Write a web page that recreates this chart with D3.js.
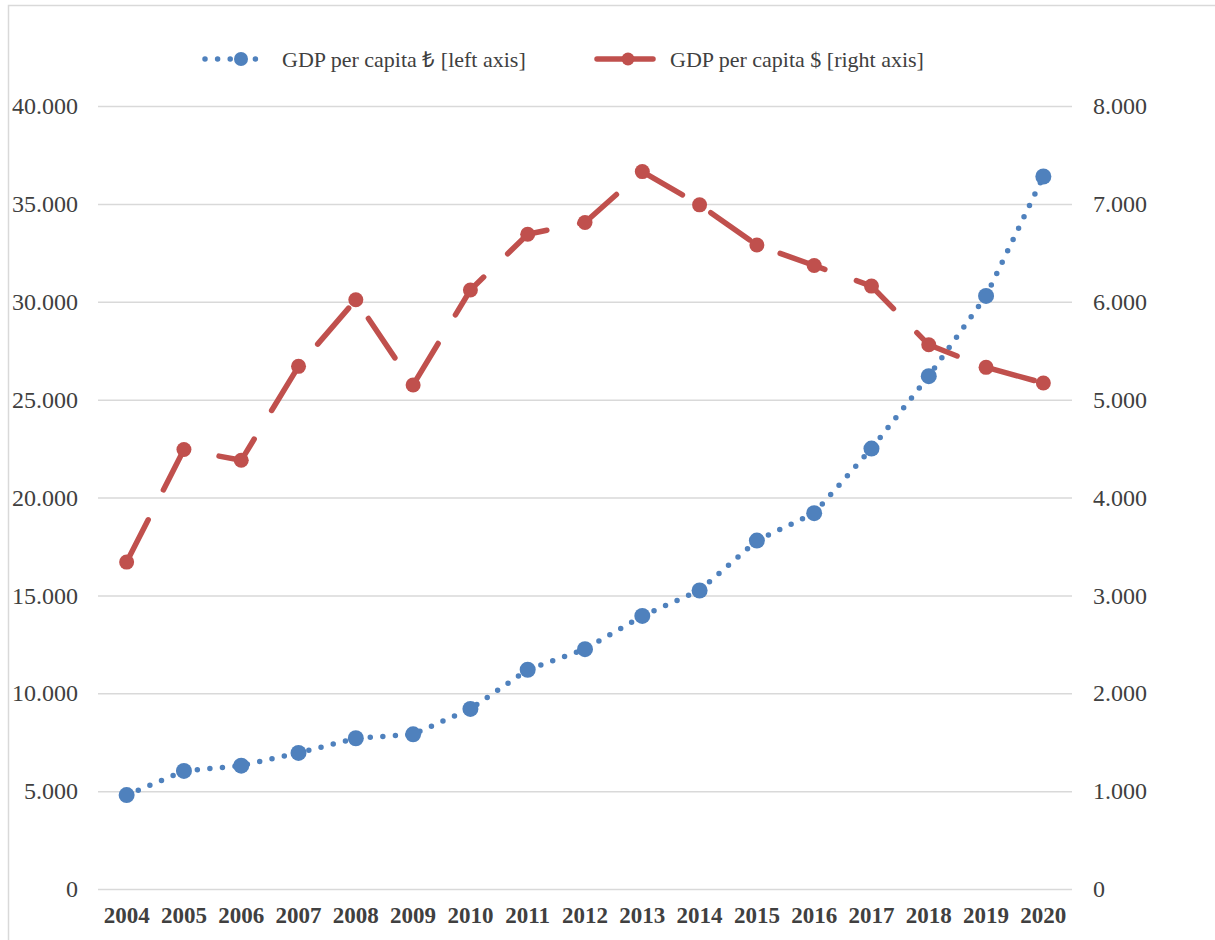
<!DOCTYPE html>
<html>
<head>
<meta charset="utf-8">
<script src="https://cdn.jsdelivr.net/npm/d3@7"></script>
<style>
  body { margin: 0; background: #fff; }
  text { font-family: "Liberation Serif", "Times New Roman", serif; fill: #404040; }
</style>
</head>
<body>
<div id="chart"></div>
<script>
// Data
var years = ["2004", "2005", "2006", "2007", "2008", "2009", "2010", "2011", "2012",
             "2013", "2014", "2015", "2016", "2017", "2018", "2019", "2020"];
var gdpTry = [4800, 6030, 6300, 6950, 7700, 7900, 9200, 11200, 12250,
              13950, 15250, 17800, 19200, 22500, 26200, 30300, 36400];
var gdpUsd = [3340, 4490, 4380, 5340, 6020, 5150, 6120, 6690, 6810,
              7330, 6990, 6580, 6370, 6160, 5560, 5330, 5170];
var leftTicks = [0, 5000, 10000, 15000, 20000, 25000, 30000, 35000, 40000];
var rightTicks = [0, 1000, 2000, 3000, 4000, 5000, 6000, 7000, 8000];
var seriesNames = ["GDP per capita \u20ba [left axis]", "GDP per capita $ [right axis]"];

var width = 1215;
var height = 940;
var blue = "#4f81bd";
var red = "#c0504d";
var grid = "#d9d9d9";

var fmt = d3.formatLocale({decimal: ",", thousands: ".", grouping: [3], currency: ["", ""]}).format(",");

var svg = d3.select("#chart").append("svg")
    .attr("width", width)
    .attr("height", height);

// chart border (runs off the right and bottom edge)
svg.append("rect")
    .attr("x", 8.5).attr("y", 5.5)
    .attr("width", 1300).attr("height", 1000)
    .attr("fill", "none")
    .attr("stroke", grid)
    .attr("stroke-width", 1.5);

var x = d3.scaleBand()
    .domain(years)
    .range([98, 1072])
    .padding(0);

var yLeft = d3.scaleLinear().domain([0, 40000]).range([889, 106]);
var yRight = d3.scaleLinear().domain([0, 8000]).range([889, 106]);

function cx(d, i) { return x(years[i]) + x.bandwidth() / 2; }

// gridlines + left axis
var leftAxis = svg.append("g")
    .attr("transform", "translate(98,0)")
    .call(d3.axisLeft(yLeft).tickValues(leftTicks).tickFormat(fmt).tickSize(0).tickPadding(20));
leftAxis.select(".domain").remove();
leftAxis.selectAll("text")
    .style("font-size", "24px")
    .attr("fill", "#404040");
leftAxis.selectAll(".tick").append("line")
    .attr("x1", 0).attr("x2", 974)
    .attr("stroke", grid)
    .attr("stroke-width", 1.5);

var rightAxis = svg.append("g")
    .attr("transform", "translate(1072,0)")
    .call(d3.axisRight(yRight).tickValues(rightTicks).tickFormat(fmt).tickSize(0).tickPadding(21));
rightAxis.select(".domain").remove();
rightAxis.selectAll("text")
    .style("font-size", "24px")
    .attr("fill", "#404040");

var xAxis = svg.append("g")
    .attr("transform", "translate(0,889)")
    .call(d3.axisBottom(x).tickSize(0).tickPadding(18));
xAxis.select(".domain").remove();
xAxis.selectAll("text")
    .style("font-size", "23px")
    .style("font-weight", "bold")
    .attr("fill", "#333333");

// series lines
var lineTry = d3.line()
    .x(cx)
    .y(function(d) { return yLeft(d); });
var lineUsd = d3.line()
    .x(cx)
    .y(function(d) { return yRight(d); });

svg.append("path")
    .datum(gdpTry)
    .attr("d", lineTry)
    .attr("fill", "none")
    .attr("stroke", blue)
    .attr("stroke-width", 5.5)
    .attr("stroke-linecap", "round")
    .attr("stroke-dasharray", "0 12.6");

svg.selectAll("circle.try")
    .data(gdpTry)
    .enter().append("circle")
    .attr("class", "try")
    .attr("cx", cx)
    .attr("cy", function(d) { return yLeft(d); })
    .attr("r", 8)
    .attr("fill", blue);

svg.append("path")
    .datum(gdpUsd)
    .attr("d", lineUsd)
    .attr("fill", "none")
    .attr("stroke", red)
    .attr("stroke-width", 5.5)
    .attr("stroke-linecap", "round")
    .attr("stroke-linejoin", "round")
    .attr("stroke-dasharray", "47.5 33.5");

svg.selectAll("circle.usd")
    .data(gdpUsd)
    .enter().append("circle")
    .attr("class", "usd")
    .attr("cx", cx)
    .attr("cy", function(d) { return yRight(d); })
    .attr("r", 7.5)
    .attr("fill", red);

// legend
var legend = svg.append("g");
legend.append("line")
    .attr("x1", 205).attr("x2", 265).attr("y1", 59).attr("y2", 59)
    .attr("stroke", blue).attr("stroke-width", 5.5)
    .attr("stroke-linecap", "round")
    .attr("stroke-dasharray", "0 12.6");
legend.append("circle")
    .attr("cx", 241).attr("cy", 59).attr("r", 7).attr("fill", blue);
legend.append("text")
    .attr("x", 282).attr("y", 67)
    .style("font-size", "22px")
    .text(seriesNames[0]);

legend.append("line")
    .attr("x1", 597).attr("x2", 653).attr("y1", 59).attr("y2", 59)
    .attr("stroke", red).attr("stroke-width", 5.5)
    .attr("stroke-linecap", "round");
legend.append("circle")
    .attr("cx", 628).attr("cy", 59).attr("r", 6.5).attr("fill", red);
legend.append("text")
    .attr("x", 670).attr("y", 67)
    .style("font-size", "22px")
    .text(seriesNames[1]);
</script>
</body>
</html>
